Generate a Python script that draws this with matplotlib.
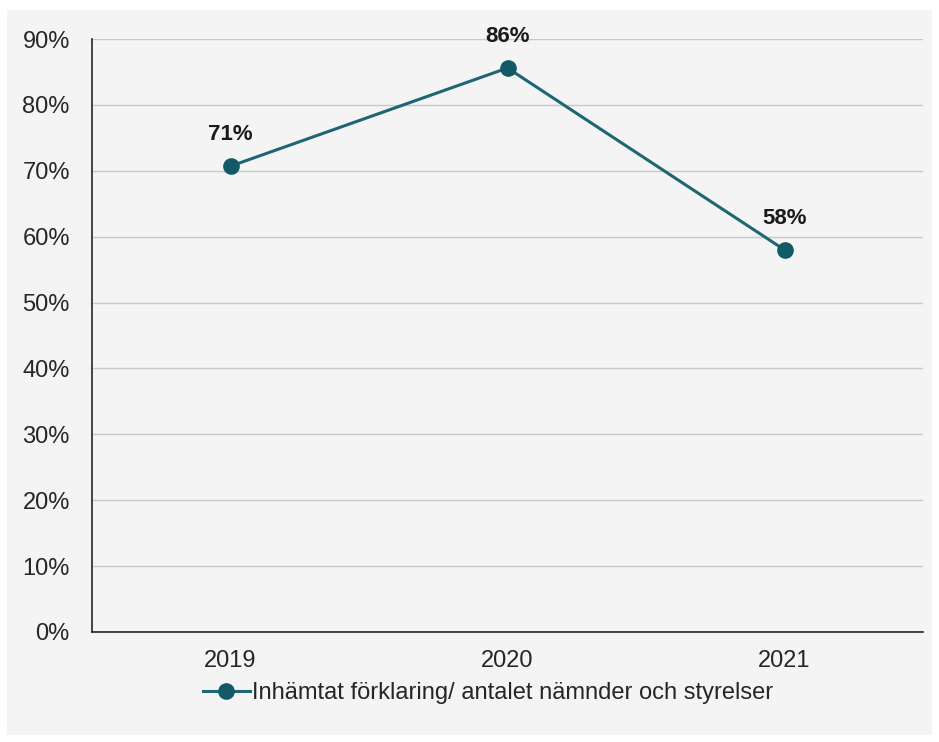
import matplotlib.pyplot as plt
from matplotlib.patches import Rectangle
from matplotlib.ticker import PercentFormatter

years = ['2019', '2020', '2021']
values = [70.7, 85.6, 58.0]
series_name = 'Inhämtat förklaring/ antalet nämnder och styrelser'

plt.rcParams['font.family'] = ['Liberation Sans', 'DejaVu Sans']

fig = plt.figure(figsize=(9.39, 7.42), dpi=100)
fig.patch.set_facecolor('white')
# gray panel behind the chart
fig.patches.append(Rectangle((7/939, 7/742), 925/939, 725/742, transform=fig.transFigure,
                             facecolor='#f4f4f4', edgecolor='none', zorder=-1))

ax = fig.add_axes([92/939, 1 - 632/742, 831/939, 593/742])
ax.set_facecolor('#f4f4f4')

x = range(len(years))
ax.plot(x, values, color='#1d6674', lw=2.2, marker='o', ms=11,
        markerfacecolor='#125a68', markeredgecolor='#125a68', label=series_name, zorder=3)
for i, v in zip(x, values):
    ax.annotate(f'{round(v)}%', (i, v), xytext=(0, 15), textcoords='offset points',
                ha='center', va='bottom', fontsize=16, fontweight='bold', color='#1a1a1a')

ax.set_xlim(-0.5, 2.5)
ax.set_ylim(0, 90)
ax.set_yticks(range(0, 91, 10))
ax.yaxis.set_major_formatter(PercentFormatter(decimals=0))
ax.set_xticks(list(x))
ax.set_xticklabels(years)
ax.tick_params(axis='both', labelsize=17, colors='#262626', length=0, pad=13)
ax.tick_params(axis='y', pad=16)

ax.grid(axis='y', color='#c8c8c8', lw=1)
ax.set_axisbelow(True)
for s in ['top', 'right']:
    ax.spines[s].set_visible(False)
ax.spines['left'].set_color('#262626')
ax.spines['bottom'].set_color('#262626')
ax.spines['left'].set_linewidth(1.2)
ax.spines['bottom'].set_linewidth(1.2)

fig.legend(loc='center', bbox_to_anchor=(488/939, 1 - 693/742), frameon=False,
           fontsize=17, handlelength=2.0, handletextpad=0.1, labelcolor='#262626')

fig.savefig('out.png', dpi=100, facecolor=fig.get_facecolor())
